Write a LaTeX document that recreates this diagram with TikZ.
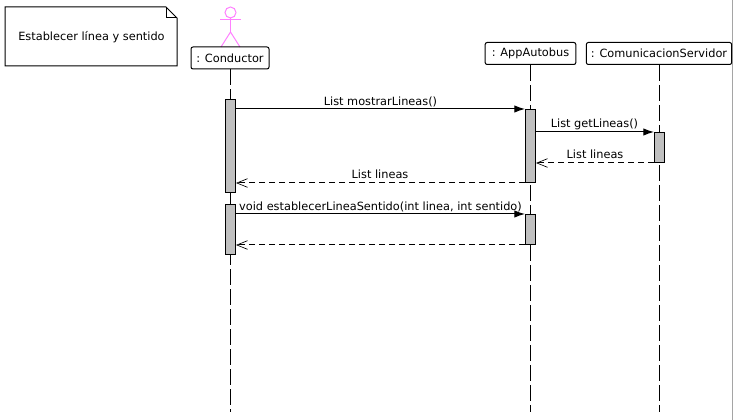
\documentclass[tikz,border=0pt]{standalone}
\usepackage{fontspec}
\setmainfont{DejaVu Sans}
\usepackage{tikz}
\usetikzlibrary{arrows.meta}

\definecolor{actorpink}{RGB}{255,128,255}
\definecolor{bargray}{RGB}{192,192,192}
\definecolor{edgegray}{RGB}{165,165,165}
\tikzset{
    head/.style={draw,rounded corners=1.5pt,line width=0.75pt,minimum height=16.5pt,inner sep=0pt,font=\fontsize{8.5}{10}\selectfont},
    bar/.style={draw,fill=bargray,line width=0.75pt,minimum width=7.5pt,inner sep=0pt},
    lifeline/.style={line width=0.75pt,dash pattern=on 12pt off 3pt},
    call/.style={line width=0.75pt,-{Latex[length=8pt,width=5.5pt]}},
    reply/.style={line width=0.75pt,dash pattern=on 4.5pt off 3pt,-{Straight Barb[length=8pt,width=6.5pt,line width=0.5pt]}},
    msg/.style={font=\fontsize{8.5}{10}\selectfont,inner sep=0pt}
}

\begin{document}
\begin{tikzpicture}[x=0.75pt,y=-0.75pt]
                \useasboundingbox (0,0) rectangle (733,420);

                % window edge
                \draw[edgegray,line width=0.75pt] (732.5,0) -- (732.5,420);

                % note
                \draw[line width=0.75pt] (5,7) -- (166,7) -- (177,18) -- (177,66) -- (5,66) -- cycle;
                \draw[line width=0.75pt] (166,7) -- (166,18) -- (177,18);
                \node[msg] (note) at (91.5,37){Establecer línea y sentido};

                % actor
                \draw[actorpink,line width=0.75pt] (230.5,12.5) circle (5.5);
                \draw[actorpink,line width=0.75pt] (230.5,18) -- (230.5,32);
                \draw[actorpink,line width=0.75pt] (220,20) -- (241,20);
                \draw[actorpink,line width=0.75pt] (221,47) -- (230.5,32) -- (240,47);

                \node[head,minimum width=58.5pt] (conductor) at (230,58){: Conductor};
                \node[head,minimum width=68pt] (app) at (530.5,53.5){: AppAutobus};
                \node[head,minimum width=109pt] (servidor) at (659,53.5){: ComunicacionServidor};

                \coordinate (conductorEnd) at (230.5,412);
                \coordinate (appEnd) at (530.5,412);
                \coordinate (servidorEnd) at (659.5,412);

                \draw[lifeline] (conductor.south -| conductorEnd) -- (conductorEnd);
                \draw[lifeline] (app.south -| appEnd) -- (appEnd);
                \draw[lifeline] (servidor.south -| servidorEnd) -- (servidorEnd);

                \node[bar,minimum height=69.75pt] (barC1) at (230.5,146){};
                \node[bar,minimum height=37.5pt] (barC2) at (230.5,229.5){};
                \node[bar,minimum height=54.75pt] (barA1) at (530.5,146){};
                \node[bar,minimum height=22.5pt] (barA2) at (530.5,229.5){};
                \node[bar,minimum height=22.5pt] (barS1) at (659.5,147.5){};

                \draw[call] (barC1.east |- barA1.north) -- (barA1.north west);
                \draw[call] (barA1.east |- barS1.north) -- (barS1.north west);
                \draw[reply] (barS1.south west) -- (barA1.east |- barS1.south);
                \draw[reply] (barA1.south west) -- (barC1.east |- barA1.south);
                \draw[call] (barC2.east |- barA2.north) -- (barA2.north west);
                \draw[reply] (barA2.south west) -- (barC2.east |- barA2.south);

                \node[msg] (m1) at (380.5,101.5){List mostrarLineas()};
                \node[msg] (m2) at (594.5,124.5){List getLineas()};
                \node[msg] (m3) at (595,154.5){List lineas};
                \node[msg] (m4) at (380,174){List lineas};
                \node[msg] (m5) at (380.5,206.5){void establecerLineaSentido(int linea, int sentido)};
        \end{tikzpicture}
\end{document}
